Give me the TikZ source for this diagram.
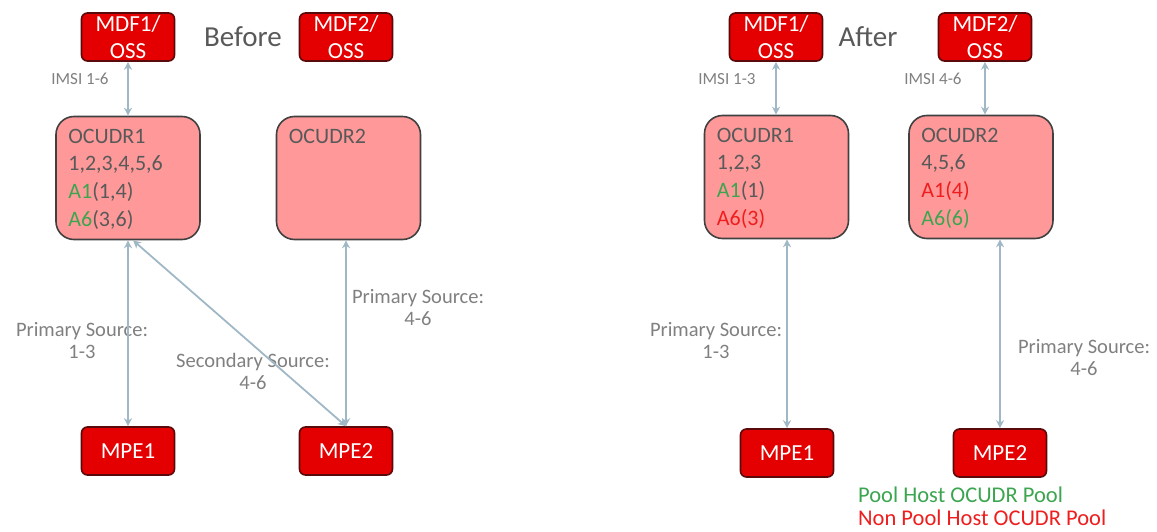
\documentclass[tikz,border=0pt]{standalone}
\usepackage{fontspec}
\setmainfont{Carlito}
\usetikzlibrary{arrows.meta}

\definecolor{boxred}{RGB}{228,0,0}
\definecolor{boxedge}{RGB}{90,10,10}
\definecolor{poolpink}{RGB}{255,153,153}
\definecolor{pooledge}{RGB}{64,64,64}
\definecolor{txtgray}{RGB}{89,89,89}
\definecolor{lblgray}{RGB}{128,128,128}
\definecolor{linkblue}{RGB}{160,184,198}
\definecolor{hostgreen}{RGB}{60,165,80}
\definecolor{nonhostred}{RGB}{238,30,30}

\tikzset{
  mdf/.style={draw=boxedge, fill=boxred, line width=1.6pt, rounded corners=6pt,
    text=white, align=center, inner sep=0pt, minimum width=93pt, minimum height=48pt,
    font=\fontsize{23}{27}\selectfont},
  ocudr/.style={draw=pooledge, fill=poolpink, line width=1.6pt, rounded corners=18pt,
    minimum width=144pt, minimum height=123pt},
  inbox/.style={anchor=north west, inner sep=0pt, align=left, text=txtgray,
    font=\fontsize{22}{27.7}\selectfont},
  lbl/.style={text=lblgray, align=center, inner sep=0pt, font=\fontsize{20.5}{22}\selectfont},
  imsi/.style={text=lblgray, inner sep=0pt, font=\fontsize{17}{18}\selectfont},
  title/.style={text=txtgray, inner sep=0pt, font=\fontsize{29}{30}\selectfont},
  legend/.style={anchor=west, inner sep=0pt, font=\fontsize{22.5}{22}\selectfont},
  link/.style={draw=linkblue, line width=1.8pt, >={Stealth[length=8pt,width=8pt]}, <->},
}

\begin{document}
\begin{tikzpicture}[x=1pt,y=-1pt]
        \useasboundingbox (0,0) rectangle (1157,532);
        \node[mdf] (a) at (128,37) {MDF1/\\OSS};
        \node[mdf] (b) at (346,37) {MDF2/\\OSS};
        \node[title] (before) at (243,37) {Before};
        \node[ocudr] (c) at (128,178) {};
        \node[ocudr] (d) at (348.5,178) {};
        \node[inbox] (ct) at ([xshift=13pt,yshift=-13pt]c.north west) {OCUDR1\\1,2,3,4,5,6\\\textcolor{hostgreen}{A1}(1,4)\\\textcolor{hostgreen}{A6}(3,6)};
        \node[inbox] (dt) at ([xshift=13pt,yshift=-13pt]d.north west) {OCUDR2};
        \node[mdf] (e) at (128,451) {MPE1};
        \node[mdf] (f) at (346,451) {MPE2};
        \node[imsi] (ia) at (80,79) {IMSI 1-6};
        \node[lbl] (pa) at (82,341) {Primary Source:\\1-3};
        \node[lbl] (sa) at (253,371) {Secondary Source:\\4-6};
        \node[lbl] (pb) at (418,308) {Primary Source:\\4-6};
        \draw[link] (a) -- (c);
        \draw[link] (c) -- (e);
        \draw[link] ([xshift=5pt]c.south) -- (f.north);
        \draw[link] (f |- d.south) -- (f.north);

        \node[mdf] (g) at (776,37) {MDF1/\\OSS};
        \node[mdf] (h) at (985,37) {MDF2/\\OSS};
        \node[title] (after) at (868,37) {After};
        \node[ocudr] (i) at (776.5,177) {};
        \node[ocudr] (j) at (981,177) {};
        \node[inbox] (it) at ([xshift=13pt,yshift=-13pt]i.north west) {OCUDR1\\1,2,3\\\textcolor{hostgreen}{A1}(1)\\\textcolor{nonhostred}{A6(3)}};
        \node[inbox] (jt) at ([xshift=13pt,yshift=-13pt]j.north west) {OCUDR2\\4,5,6\\\textcolor{nonhostred}{A1(4)}\\\textcolor{hostgreen}{A6(6)}};
        \node[mdf] (k) at (787,453) {MPE1};
        \node[mdf] (l) at (1000,453) {MPE2};
        \node[imsi] (ic) at (727,79) {IMSI 1-3};
        \node[imsi] (id) at (933,79) {IMSI 4-6};
        \node[lbl] (pc) at (716,341) {Primary Source:\\1-3};
        \node[lbl] (pd) at (1084,358) {Primary Source:\\4-6};
        \draw[link] (g.south) -- (g |- i.north);
        \draw[link] (h.south) -- (h |- j.north);
        \draw[link] (k |- i.south) -- (k.north);
        \draw[link] (l |- j.south) -- (l.north);

        \node[legend, text=hostgreen] (ga) at (858,495) {Pool Host OCUDR Pool};
        \node[legend, text=nonhostred] (ra) at (858,518) {Non Pool Host OCUDR Pool};
\end{tikzpicture}
\end{document}
